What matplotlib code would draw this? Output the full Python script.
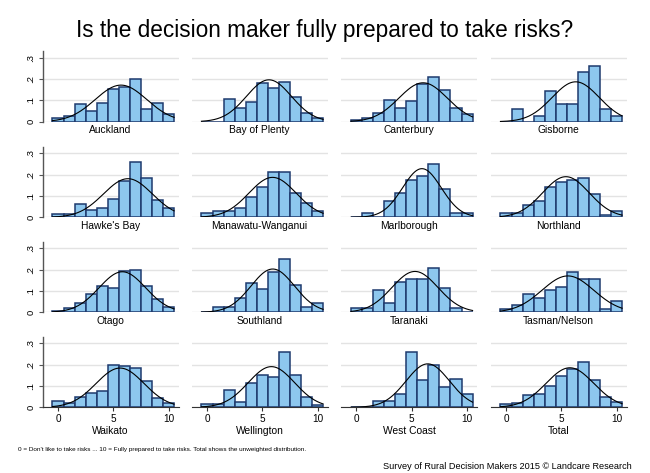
import numpy as np
import matplotlib
matplotlib.use("Agg")
import matplotlib.pyplot as plt

plt.rcParams['font.family'] = ['Liberation Sans', 'DejaVu Sans']

scores = list(range(11))
regions = ["Auckland", "Bay of Plenty", "Canterbury", "Gisborne",
           "Hawke's Bay", "Manawatu-Wanganui", "Marlborough", "Northland",
           "Otago", "Southland", "Taranaki", "Tasman/Nelson",
           "Waikato", "Wellington", "West Coast", "Total"]

auckland = [0.015, 0.028, 0.081, 0.050, 0.088, 0.152, 0.164, 0.202, 0.061, 0.088, 0.038]
bay_of_plenty = [0.0, 0.0, 0.108, 0.064, 0.094, 0.181, 0.158, 0.188, 0.116, 0.041, 0.017]
canterbury = [0.008, 0.019, 0.039, 0.100, 0.064, 0.097, 0.178, 0.209, 0.147, 0.064, 0.038]
gisborne = [0.0, 0.058, 0.0, 0.025, 0.144, 0.084, 0.084, 0.234, 0.263, 0.058, 0.025]
hawkes_bay = [0.016, 0.016, 0.064, 0.036, 0.044, 0.086, 0.172, 0.258, 0.186, 0.080, 0.042]
manawatu = [0.019, 0.028, 0.031, 0.042, 0.095, 0.140, 0.212, 0.212, 0.116, 0.069, 0.028]
marlborough = [0.0, 0.020, 0.0, 0.075, 0.116, 0.173, 0.194, 0.248, 0.134, 0.019, 0.019]
northland = [0.019, 0.019, 0.059, 0.075, 0.142, 0.164, 0.173, 0.186, 0.111, 0.009, 0.028]
otago = [0.006, 0.019, 0.042, 0.086, 0.122, 0.114, 0.192, 0.200, 0.122, 0.062, 0.027]
southland = [0.0, 0.023, 0.023, 0.067, 0.138, 0.109, 0.189, 0.250, 0.127, 0.023, 0.042]
taranaki = [0.019, 0.019, 0.103, 0.042, 0.144, 0.156, 0.156, 0.206, 0.116, 0.019, 0.0]
tasman_nelson = [0.014, 0.033, 0.086, 0.067, 0.103, 0.119, 0.189, 0.155, 0.155, 0.016, 0.052]
waikato = [0.031, 0.019, 0.049, 0.068, 0.076, 0.199, 0.191, 0.185, 0.123, 0.043, 0.021]
wellington = [0.014, 0.014, 0.081, 0.024, 0.115, 0.152, 0.141, 0.259, 0.152, 0.047, 0.013]
west_coast = [0.0, 0.0, 0.031, 0.028, 0.063, 0.259, 0.130, 0.196, 0.096, 0.133, 0.063]
total = [0.016, 0.019, 0.056, 0.063, 0.100, 0.145, 0.178, 0.211, 0.130, 0.050, 0.027]

series = [auckland, bay_of_plenty, canterbury, gisborne,
          hawkes_bay, manawatu, marlborough, northland,
          otago, southland, taranaki, tasman_nelson,
          waikato, wellington, west_coast, total]

yticks = [0, 0.1, 0.2, 0.3]
ytick_labels = ["0", ".1", ".2", ".3"]
xticks = [0, 5, 10]

title = "Is the decision maker fully prepared to take risks?"
note = ("0 = Don't like to take risks ... 10 = Fully prepared to take risks. "
        "Total shows the unweighted distribution.")
credit = "Survey of Rural Decision Makers 2015 \u00a9 Landcare Research"

W, H = 650, 473
fig = plt.figure(figsize=(W / 100, H / 100), dpi=100)

bar_fill = "#8DC7EE"
bar_edge = "#1E3A6E"
grid_col = "#E3E3E3"

xlim = (-1.4, 10.9)
ylim = (0, 0.33)
ax_w = 136
ax_h = 70.5
lefts = [42.5, 191.5, 341.0, 490.5]
bottoms = [121.7, 217.3, 312.3, 407.3]

x = np.array(scores, dtype=float)
xs = np.linspace(-0.5, 10.5, 200)

for i, (name, vals) in enumerate(zip(regions, series)):
    r, c = divmod(i, 4)
    ax = fig.add_axes([lefts[c] / W, 1 - bottoms[r] / H, ax_w / W, ax_h / H])
    v = np.array(vals)
    ax.bar(x, v, width=1.0, color=bar_fill, edgecolor=bar_edge, linewidth=1.1, zorder=3)
    p = v / v.sum()
    mu = (p * x).sum()
    sd = np.sqrt((p * (x - mu) ** 2).sum())
    dens = np.exp(-0.5 * ((xs - mu) / sd) ** 2) / (sd * np.sqrt(2 * np.pi))
    ax.plot(xs, dens, color="black", linewidth=0.8, zorder=4)
    ax.set_xlim(*xlim)
    ax.set_ylim(*ylim)
    for yv in yticks:
        ax.axhline(yv, color=grid_col, linewidth=1.0, zorder=1)
    for s in ["top", "right"]:
        ax.spines[s].set_visible(False)
    ax.spines["bottom"].set_visible(r == 3)
    ax.spines["bottom"].set_color("#333333")
    ax.spines["left"].set_visible(c == 0)
    ax.spines["left"].set_color("#555555")
    ax.spines["left"].set_linewidth(1.0)
    ax.set_yticks(yticks)
    if c == 0:
        ax.set_yticklabels(ytick_labels, rotation=90, va="center", fontsize=6.8)
        ax.tick_params(axis="y", length=3, width=0.8, color="#555555", pad=2)
    else:
        ax.tick_params(axis="y", length=0, labelleft=False)
    ax.set_xticks(xticks)
    if r == 3:
        ax.set_xticklabels([str(t) for t in xticks], fontsize=7.2)
        ax.tick_params(axis="x", length=3, width=0.8, color="#333333", pad=2)
        ax.set_xlabel(name, fontsize=7.4, labelpad=1)
    else:
        ax.tick_params(axis="x", length=0, labelbottom=False)
        ax.set_xlabel(name, fontsize=7.4, labelpad=2.5)

fig.text(0.5, 1 - 30 / H, title, ha="center", va="center", fontsize=16.3)
fig.text(18 / W, 1 - 449 / H, note, ha="left", va="center", fontsize=4.55)
fig.text(632 / W, 1 - 466 / H, credit, ha="right", va="center", fontsize=6.6)

fig.savefig("out.png", dpi=100, facecolor="white")
